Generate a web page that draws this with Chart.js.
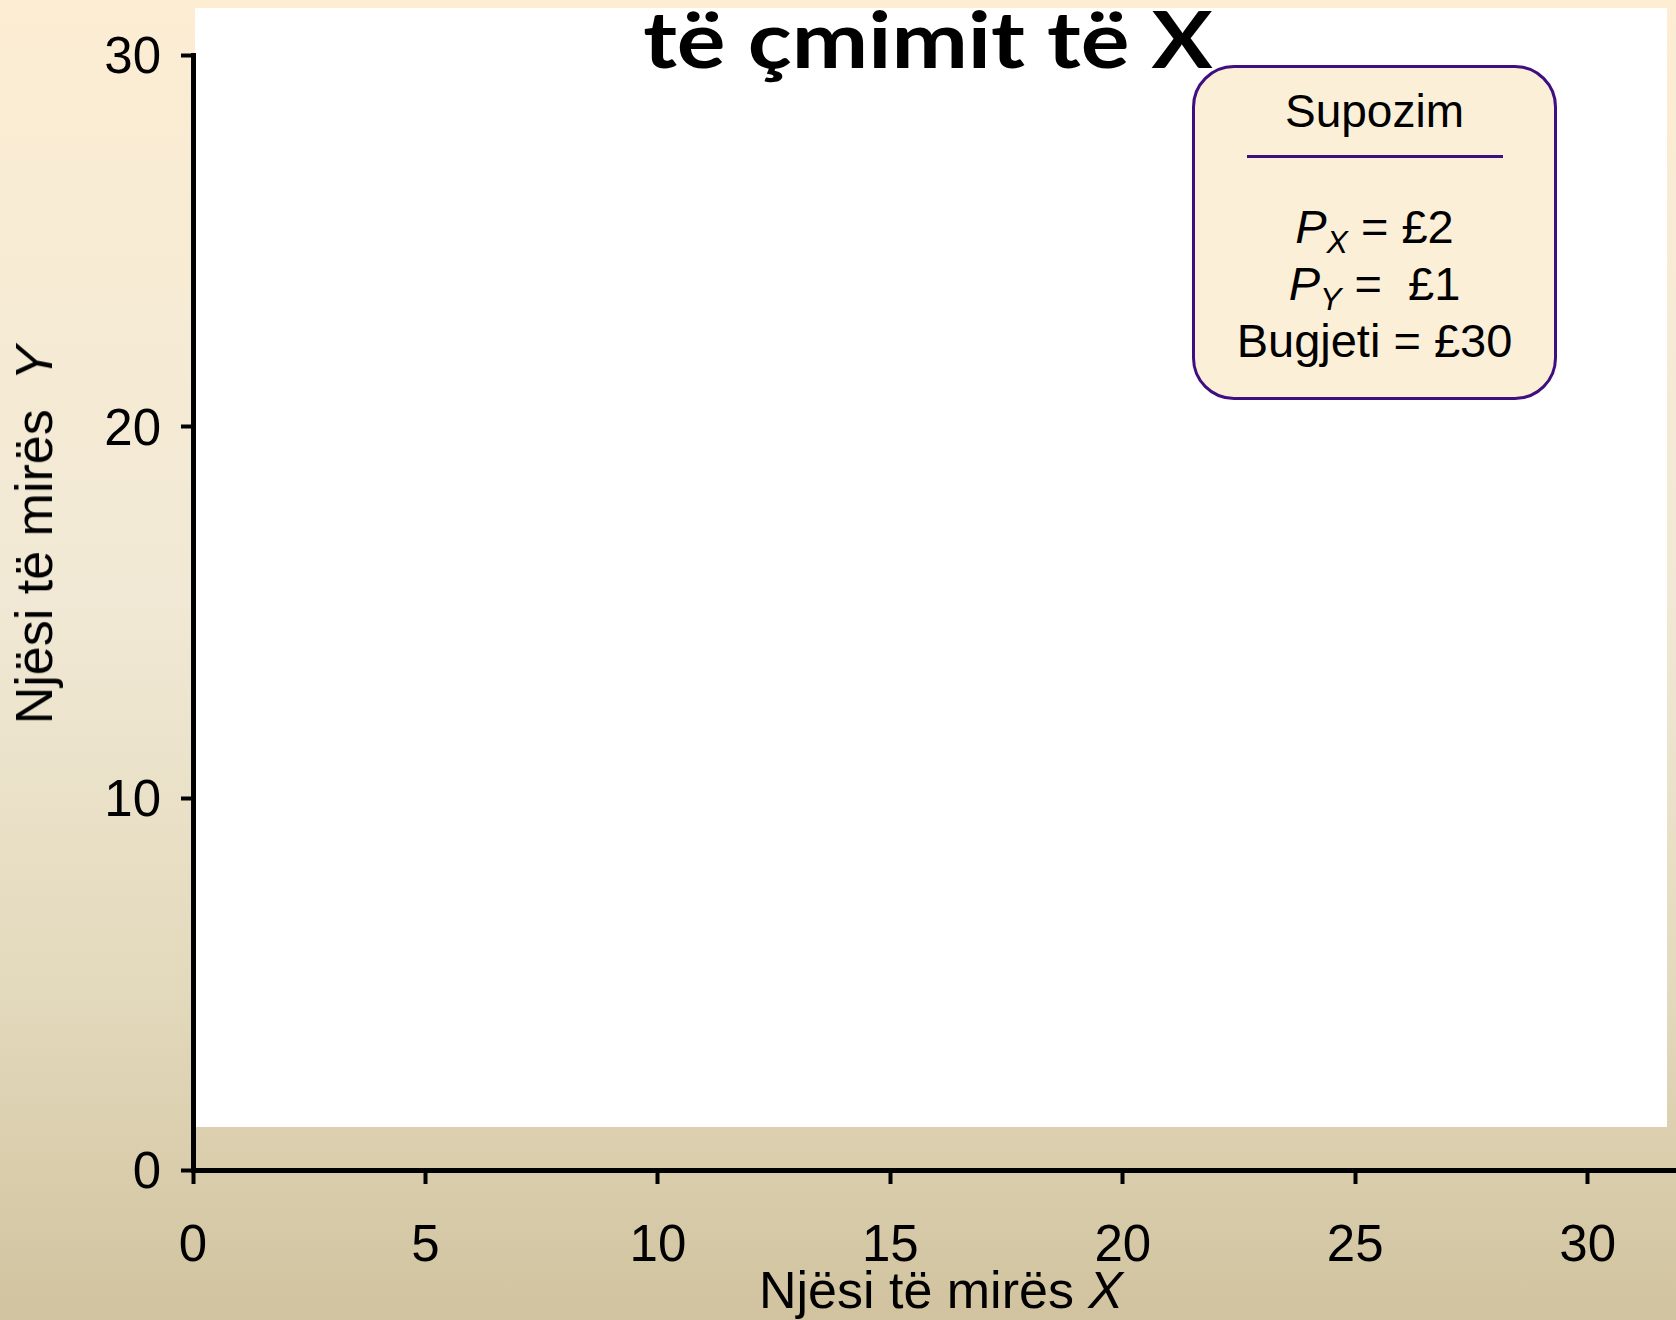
<!doctype html>
<html lang="sq">
  <head>
    <meta charset="utf-8">
    <title>Njësi të mirës X / Y</title>
    <style>
      html, body { margin: 0; padding: 0; }
      body {
        width: 1676px; height: 1320px; position: relative; overflow: hidden;
        background: linear-gradient(to bottom, #fcedd3 0%, #f1e9d5 45%, #e3d9bc 75%, #d1c39f 100%);
        font-family: "Liberation Sans", Arial, sans-serif;
      }
      .sheet { position: absolute; left: 195px; top: 8px; width: 1472px; height: 1119px; background: #fff; }
      #myChart { position: absolute; left: 0; top: 0; }
      .title {
        position: absolute; left: 928px; top: 0px; transform: translateX(-50%) scaleX(1.17);
        font-family: Lato, "Open Sans", sans-serif; font-weight: 700; font-size: 78px; line-height: 76px;
        white-space: nowrap; color: #000;
      }
      .xTitle {
        position: absolute; left: 941px; top: 1264px; transform: translateX(-50%);
        font-size: 52px; line-height: 52px; white-space: pre; color: #000;
      }
      .yTitle {
        position: absolute; left: 34px; top: 535px; transform: translate(-50%, -50%) rotate(-90deg);
        font-size: 52px; line-height: 52px; white-space: pre; color: #000;
      }
      .note {
        position: absolute; left: 1192px; top: 65px; width: 359px; height: 329px;
        border: 3.5px solid #3f0f80; border-radius: 42px; background: #fbefd8;
        text-align: center; color: #000;
      }
      .note .head { font-size: 46px; line-height: 46px; margin-top: 20px; }
      .note .rule { width: 256px; height: 2.5px; background: #3f0f80; margin: 21px auto 0; }
      .note .lines { font-size: 47px; line-height: 57px; margin-top: 40px; white-space: pre; }
      .note sub { font-size: 32px; vertical-align: -10px; line-height: 0; }
    </style>
  </head>
  <body>
    <div class="sheet"></div>
    <canvas id="myChart" width="1676" height="1320"></canvas>
    <div class="title">të çmimit të X</div>
    <div class="yTitle">Njësi të mirës  <i>Y</i></div>
    <div class="xTitle">Njësi të mirës <i>X</i></div>
    <div class="note">
      <div class="head">Supozim</div>
      <div class="rule"></div>
      <div class="lines"><i>P<sub>X</sub></i> = £2
<i>P<sub>Y</sub></i> =  £1
Bugjeti = £30</div>
    </div>

    <script src="https://cdn.jsdelivr.net/npm/chart.js/dist/chart.umd.min.js"></script>
    <script>
    // axes only, no series plotted yet
    const xTickValues = [0, 5, 10, 15, 20, 25, 30];
    const yTickValues = [0, 10, 20, 30];
    const xMin = 0, xMax = 31.9;
    const yMin = 0, yMax = 30;
    const points = [];

    const tickFont = { family: '"Liberation Sans Narrow", "Liberation Sans", Arial, sans-serif', size: 51 };

    const config = {
      type: 'scatter',
      data: {
        datasets: [{ label: 'bosh', data: points }]
      },
      options: {
        responsive: false,
        animation: false,
        devicePixelRatio: 1,
        layout: { padding: { top: 55, right: 0, bottom: 0, left: 0 } },
        plugins: {
          legend: { display: false },
          tooltip: { enabled: false },
          title: { display: false }
        },
        scales: {
          x: {
            type: 'linear',
            min: xMin,
            max: xMax,
            afterBuildTicks: (s) => { s.ticks = xTickValues.map(v => ({ value: v })); },
            afterFit: (s) => { s.height = 150; },
            grid: { display: true, drawOnChartArea: false, drawTicks: true, tickLength: 14, tickWidth: 4, tickColor: '#000' },
            border: { display: true, color: '#000', width: 5 },
            ticks: { color: '#000', font: tickFont, padding: 32, maxRotation: 0 }
          },
          y: {
            type: 'linear',
            min: yMin,
            max: yMax,
            afterBuildTicks: (s) => { s.ticks = yTickValues.map(v => ({ value: v })); },
            afterFit: (s) => { s.width = 193; },
            grid: { display: true, drawOnChartArea: false, drawTicks: true, tickLength: 12, tickWidth: 4, tickColor: '#000' },
            border: { display: true, color: '#000', width: 5 },
            ticks: { color: '#000', font: tickFont, padding: 20, labelOffset: 4 }
          }
        }
      }
    };

    const myChart = new Chart(document.getElementById('myChart'), config);
    </script>
  </body>
</html>
